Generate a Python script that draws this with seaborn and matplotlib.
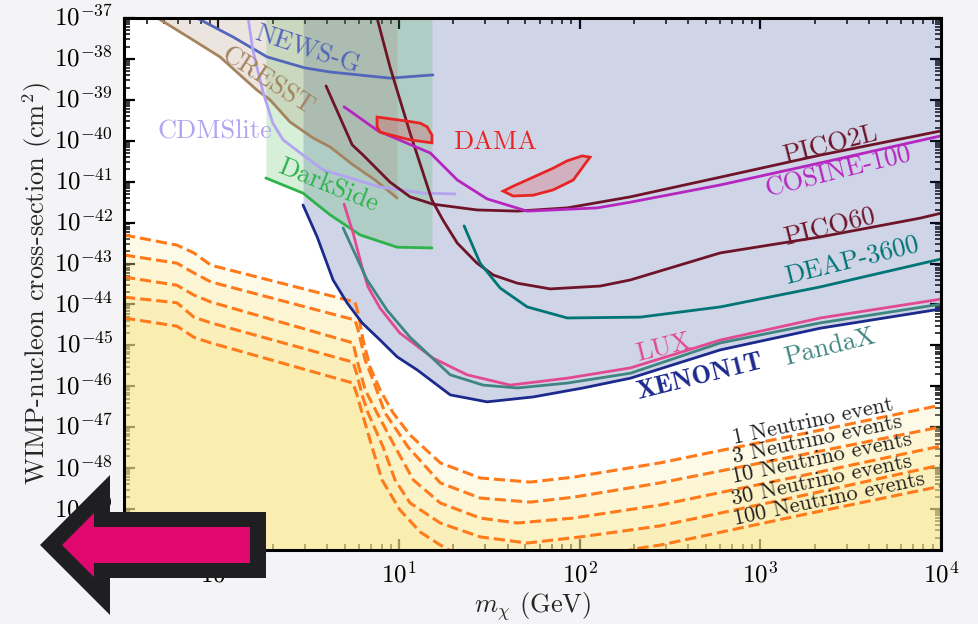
import numpy as np
import matplotlib
matplotlib.use("Agg")
import matplotlib.pyplot as plt
from matplotlib.patches import Polygon
from matplotlib.ticker import LogLocator, NullFormatter
import seaborn as sns

# ---------------- experimental limits (mass in GeV, cross-section in cm^2) ----------------
xenon1t_mass = [2.94, 3.52, 4.31, 5.15, 6.24, 7.85, 9.75, 12.6, 19.2, 30.7, 55.3, 104.5, 191, 600, 2150, 1e4]
xenon1t_sigma = [2.69e-42, 4.47e-43, 3.98e-44, 1.10e-44, 3.55e-45, 1.35e-45, 5.25e-46, 2.51e-46,
                 6.17e-47, 4.17e-47, 5.50e-47, 9.12e-47, 1.58e-46, 7.76e-46, 2.63e-45, 7.76e-45]

pandax_mass = [4.90, 6.65, 8.58, 11.5, 19.2, 29.2, 45.1, 85.3, 191, 600, 2150, 1e4]
pandax_sigma = [7.41e-43, 3.98e-44, 7.24e-45, 1.58e-45, 1.91e-46, 1.07e-46, 9.12e-47, 1.20e-46,
                2.09e-46, 1.15e-45, 3.55e-45, 1.02e-44]

lux_mass = [4.96, 5.56, 6.24, 6.73, 7.85, 10.1, 15.4, 23.8, 41.2, 85.3, 191, 600, 2150, 1e4]
lux_sigma = [2.82e-42, 5.62e-43, 8.13e-44, 2.69e-44, 8.13e-45, 2.0e-45, 4.90e-46, 1.91e-46,
             1.07e-46, 1.58e-46, 2.82e-46, 1.35e-45, 4.68e-45, 1.35e-44]

deap_mass = [22.9, 28.1, 36.3, 51.2, 85.3, 216, 600, 2150, 1e4]
deap_sigma = [8.32e-43, 1.02e-43, 2.51e-44, 8.71e-45, 4.68e-45, 4.90e-45, 8.71e-45, 2.69e-44, 1.29e-43]

pico60_mass = [7.55, 8.91, 11.5, 15.2, 17.5, 21.0, 27.0, 33.2, 45.1, 68.7, 130, 191, 600, 2150, 7690, 1e4]
pico60_sigma = [1e-37, 6.31e-39, 1.55e-40, 3.55e-42, 1.15e-42, 3.16e-43, 1.02e-43, 5.25e-44,
                3.31e-44, 2.40e-44, 2.82e-44, 3.98e-44, 1.82e-43, 4.47e-43, 1.29e-42, 1.70e-42]

pico2l_mass = [3.94, 5.50, 6.32, 8.91, 11.5, 15.4, 27.0, 45.1, 85.3, 191, 600, 2150, 1e4]
pico2l_sigma = [2.19e-39, 7.94e-41, 4.47e-41, 9.77e-42, 4.27e-42, 2.82e-42, 2.04e-42, 1.91e-42,
                2.29e-42, 4.27e-42, 1.29e-41, 4.47e-41, 1.74e-40]

cosine_mass = [4.96, 7.65, 14.9, 21.0, 30.7, 51.2, 125, 191, 600, 2150, 1e4]
cosine_sigma = [6.76e-40, 1.74e-40, 5.01e-41, 1.10e-41, 3.80e-42, 1.91e-42, 2.29e-42, 3.16e-42,
                8.32e-42, 2.88e-41, 1.32e-40]

darkside_mass = [1.83, 2.94, 3.43, 4.15, 6.08, 9.75, 15.2]
darkside_sigma = [1.23e-41, 5.25e-42, 3.02e-42, 1.55e-42, 5.01e-43, 2.51e-43, 2.40e-43]

cresst_mass = [0.46, 0.695, 1.02, 1.63, 1.93, 2.49, 3.34, 4.15, 5.56, 7.36, 9.75]
cresst_sigma = [1e-37, 3.24e-38, 1.12e-38, 1.74e-39, 1e-39, 2.88e-40, 1.17e-40, 7.08e-41,
                2.57e-41, 1.10e-41, 3.98e-42]

newsg_mass = [0.76, 1.20, 1.86, 3.01, 4.15, 8.91, 15.4]
newsg_sigma = [1e-37, 3.47e-38, 1.12e-38, 6.03e-39, 4.79e-39, 3.39e-39, 4.07e-39]

cdmslite_mass = [1.46, 1.55, 1.77, 2.0, 2.28, 2.94, 3.80, 5.36, 7.85, 13.6, 20.4]
cdmslite_sigma = [1e-37, 1.66e-38, 1.48e-39, 2.69e-40, 1.05e-40, 4.47e-41, 1.95e-41, 1.23e-41,
                  7.41e-42, 5.25e-42, 5.01e-42]

# DAMA signal regions (closed contours)
dama_low_mass = [7.55, 7.55, 7.85, 11.5, 15.2, 15.2, 14.3, 13.1, 11.1, 7.55]
dama_low_sigma = [3.80e-40, 2.19e-40, 1.62e-40, 1.05e-40, 8.91e-41, 1.38e-40, 2.19e-40, 2.69e-40,
                  3.02e-40, 3.80e-40]
dama_high_mass = [37.7, 42.8, 55.3, 71.3, 92.1, 114, 103, 85.3, 71.3, 55.3, 42.8, 37.7]
dama_high_sigma = [5.89e-42, 4.47e-42, 4.68e-42, 6.31e-42, 1.10e-41, 3.98e-41, 4.27e-41, 3.24e-41,
                   2.14e-41, 1.29e-41, 7.76e-42, 5.89e-42]

# ---------------- neutrino floor contours (1, 3, 10, 30, 100 events) ----------------
nu1_mass = [0.30, 0.589, 0.731, 0.908, 5.70, 5.93, 6.32, 6.91, 7.85, 9.27, 11.5, 16.9, 28.1, 53.2,
            92.1, 279, 1670, 1e4]
nu1_sigma = [5.01e-43, 2.82e-43, 1.82e-43, 9.12e-44, 1.15e-44, 6.17e-45, 1.35e-45, 2.95e-46,
             8.13e-47, 2.24e-47, 6.46e-48, 1.35e-48, 5.75e-49, 4.57e-49, 6.03e-49, 1.35e-48,
             6.76e-48, 3.47e-47]
nu3_mass = [0.30, 0.589, 0.731, 0.908, 5.70, 5.93, 6.49, 7.18, 8.36, 11.2, 16.9, 28.1, 53.2, 92.1,
            279, 1670, 1e4]
nu3_sigma = [1.62e-43, 1.02e-43, 5.89e-44, 3.55e-44, 4.17e-45, 2.40e-45, 4.37e-46, 1.41e-46,
             2.24e-47, 3.31e-48, 4.37e-49, 1.86e-49, 1.48e-49, 1.95e-49, 4.37e-49, 2.09e-48, 1.02e-47]
nu10_mass = [0.30, 0.589, 0.731, 0.908, 5.56, 5.85, 6.49, 7.55, 9.50, 12.0, 16.9, 28.1, 45.1, 92.1,
             279, 1670, 1e4]
nu10_sigma = [4.68e-44, 2.95e-44, 1.70e-44, 1.15e-44, 1.15e-45, 4.37e-46, 8.13e-47, 2.24e-47,
              3.31e-48, 5.13e-49, 1.41e-49, 6.03e-50, 4.57e-50, 6.03e-50, 1.26e-49, 6.46e-49, 3.47e-48]
nu30_mass = [0.30, 0.589, 0.731, 0.908, 5.56, 5.85, 6.24, 6.73, 8.15, 9.50, 11.5, 16.9, 28.1, 51.2,
             101, 279, 1670, 1e4]
nu30_sigma = [1.51e-44, 1.10e-44, 4.90e-45, 3.55e-45, 3.89e-46, 1.91e-46, 6.17e-47, 2.24e-47,
              3.31e-48, 5.13e-49, 1.41e-49, 4.57e-50, 2.09e-50, 1.48e-50, 2.09e-50, 3.89e-50,
              2.09e-49, 1.20e-48]
nu100_mass = [0.30, 0.589, 0.731, 0.908, 5.56, 5.85, 6.24, 7.08, 8.05, 10.1, 13.1, 16.9, 21.8, 53.2,
              130, 216, 279, 1670, 1e4]
nu100_sigma = [4.68e-45, 2.95e-45, 1.58e-45, 1.15e-45, 1.20e-46, 6.17e-47, 2.24e-47, 3.31e-48,
               5.13e-49, 9.55e-50, 2.75e-50, 1.32e-50, 7.08e-51, 4.07e-51, 7.08e-51, 1.12e-50,
               1.32e-50, 7.08e-50, 3.63e-49]
nu_labels = ["1 Neutrino event", "3 Neutrino events", "10 Neutrino events",
             "30 Neutrino events", "100 Neutrino events"]

# ---------------- style ----------------
sns.set_style("ticks")
plt.rcParams.update({
    "font.family": ["cmr10", "DejaVu Serif"],
    "mathtext.fontset": "cm",
    "axes.formatter.use_mathtext": True,
    "axes.linewidth": 2.2,
})

W, H = 979, 624
fig = plt.figure(figsize=(W / 100, H / 100), dpi=100, facecolor="#f4f4f6")
ax = fig.add_axes([124 / W, 74 / H, 817 / W, 532 / H])
ax.set_facecolor("white")
ax.set_xscale("log")
ax.set_yscale("log")
ax.set_xlim(0.3, 1e4)
ax.set_ylim(1e-50, 1e-37)

TOP = 1e-37
FLOOR = 1e-55

# neutrino floor: stacked translucent yellow bands
nu_curves = [(nu1_mass, nu1_sigma), (nu3_mass, nu3_sigma), (nu10_mass, nu10_sigma),
             (nu30_mass, nu30_sigma), (nu100_mass, nu100_sigma)]
for m, s in nu_curves:
    ax.fill_between(m, FLOOR, s, color="#f9e68c", alpha=0.2, lw=0, zorder=1)

# excluded regions
ax.fill_between(xenon1t_mass, xenon1t_sigma, TOP, color="#283c96", alpha=0.22, lw=0, zorder=2)
ax.fill_between(darkside_mass, darkside_sigma, TOP, color="#30b040", alpha=0.2, lw=0, zorder=2)
ax.fill_between(cresst_mass, cresst_sigma, TOP, color="#a08060", alpha=0.2, lw=0, zorder=2)

for m, s in nu_curves:
    sns.lineplot(x=m, y=s, ax=ax, color="#ff7a1a", lw=2.2, linestyle="--",
                 sort=False, estimator=None, zorder=3)

limits = [
    (cresst_mass, cresst_sigma, "#a4845f"),
    (newsg_mass, newsg_sigma, "#5266bb"),
    (cdmslite_mass, cdmslite_sigma, "#b3a3f0"),
    (darkside_mass, darkside_sigma, "#2db34a"),
    (pico2l_mass, pico2l_sigma, "#6e1428"),
    (pico60_mass, pico60_sigma, "#6e1428"),
    (cosine_mass, cosine_sigma, "#b526c0"),
    (deap_mass, deap_sigma, "#007575"),
    (lux_mass, lux_sigma, "#e24a90"),
    (pandax_mass, pandax_sigma, "#3f8580"),
    (xenon1t_mass, xenon1t_sigma, "#1b2a8c"),
]
for m, s, c in limits:
    sns.lineplot(x=m, y=s, ax=ax, color=c, lw=2, sort=False, estimator=None, zorder=4)

for m, s in [(dama_low_mass, dama_low_sigma), (dama_high_mass, dama_high_sigma)]:
    ax.fill(m, s, facecolor=(0.91, 0.13, 0.13, 0.2), edgecolor="#e82525", lw=2, zorder=5)

# ---------------- labels ----------------
lab = dict(transform=ax.transAxes, ha="center", va="center", fontsize=19, zorder=6)
ax.text(0.224, 0.940, "NEWS-G", color="#5266bb", rotation=-18, **lab)
ax.text(0.176, 0.880, "CRESST", color="#a4845f", rotation=-33, **lab)
ax.text(0.111, 0.786, "CDMSlite", color="#b3a3f0", rotation=0, **lab)
ax.text(0.250, 0.684, "DarkSide", color="#2db34a", rotation=-22, **lab)
ax.text(0.454, 0.767, "DAMA", color="#e82525", rotation=0, **lab)
ax.text(0.864, 0.761, "PICO2L", color="#6e1428", rotation=14, **lab)
ax.text(0.874, 0.711, "COSINE-100", color="#b526c0", rotation=14, **lab)
ax.text(0.864, 0.607, "PICO60", color="#6e1428", rotation=14, **lab)
ax.text(0.891, 0.543, "DEAP-3600", color="#007575", rotation=14, **lab)
ax.text(0.660, 0.382, "LUX", color="#e24a90", rotation=14, **lab)
ax.text(0.864, 0.382, "PandaX", color="#3f8580", rotation=14, **lab)
ax.text(0.705, 0.325, "XENON1T", color="#1b2a8c", rotation=14,
        **{**lab, "fontfamily": "cmb10"})

nu_pos = [(0.843, 0.241), (0.849, 0.207), (0.854, 0.173), (0.854, 0.132), (0.863, 0.096)]
for (px, py), t in zip(nu_pos, nu_labels):
    ax.text(px, py, t, transform=ax.transAxes, ha="center", va="center", fontsize=16,
            color="#222222", rotation=12, zorder=6)

ax.set_xlabel(r"$m_\chi$ (GeV)", fontsize=19, labelpad=2)
ax.set_ylabel("WIMP-nucleon cross-section (cm$^2$)", fontsize=19)
ax.yaxis.set_label_coords(-0.086, 0.5)

# ---------------- ticks ----------------
ax.yaxis.set_major_locator(LogLocator(base=10, numticks=30))
ax.yaxis.set_minor_locator(LogLocator(base=10, subs=np.arange(2, 10), numticks=300))
ax.yaxis.set_minor_formatter(NullFormatter())
ax.xaxis.set_major_locator(LogLocator(base=10, numticks=30))
ax.xaxis.set_minor_locator(LogLocator(base=10, subs=np.arange(2, 10), numticks=300))
ax.xaxis.set_minor_formatter(NullFormatter())
ax.tick_params(which="both", direction="in", top=True, right=True, labelsize=18, colors="black")
ax.tick_params(which="major", length=8, width=1.6, pad=8)
ax.tick_params(which="minor", length=4.5, width=1.1)
plt.setp(ax.get_yticklabels(), va="center")
for sp in ax.spines.values():
    sp.set_linewidth(2.2)
    sp.set_color("black")
    sp.set_zorder(7)

# ---------------- left-pointing arrow overlay ----------------
def fig_pts(pts):
    return [(x / W, 1 - y / H) for x, y in pts]

outer = [(40, 545), (110, 475), (110, 512), (266, 512), (266, 578), (110, 578), (110, 615)]
inner = [(62, 545), (94, 513), (94, 527), (250, 527), (250, 563), (94, 563), (94, 577)]
fig.add_artist(Polygon(fig_pts(outer), closed=True, facecolor="#1f1f21", edgecolor="none",
                       transform=fig.transFigure, zorder=20))
fig.add_artist(Polygon(fig_pts(inner), closed=True, facecolor="#e0086e", edgecolor="none",
                       transform=fig.transFigure, zorder=21))

fig.savefig("out.png", dpi=100, facecolor=fig.get_facecolor())
